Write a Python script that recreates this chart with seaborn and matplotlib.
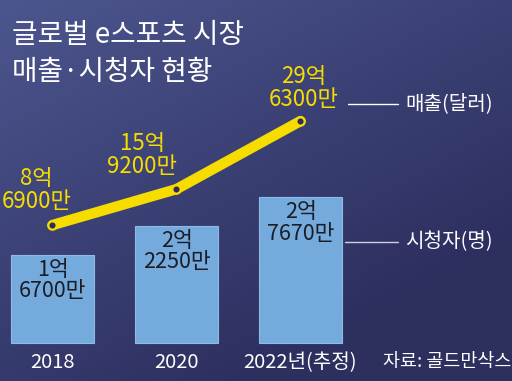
import numpy as np
import matplotlib
matplotlib.use("Agg")
import matplotlib.pyplot as plt
from matplotlib.lines import Line2D
import seaborn as sns

years = ["2018", "2020", "2022"]
year_labels = ["2018", "2020", "2022년(추정)"]
viewers = [167.0, 222.5, 276.7]          # 백만 명
viewer_labels = ["1억\n6700만", "2억\n2250만", "2억\n7670만"]
revenue = [869, 1592, 2963]              # 백만 달러
revenue_labels = ["8억\n6900만", "15억\n9200만", "29억\n6300만"]

sns.set_theme(style="white")
plt.rcParams["font.family"] = ["Noto Sans CJK KR", "DejaVu Sans"]

W, H = 512, 381
fig = plt.figure(figsize=(W / 100, H / 100), dpi=100)

# background gradient
bg = fig.add_axes([0, 0, 1, 1], zorder=0)
yy, xx = np.mgrid[0:1:200j, 0:1:200j]
t = np.clip(0.55 * xx + 0.75 * yy, 0, 1) / 1.3
c0 = np.array([76, 86, 142]) / 255
c1 = np.array([36, 36, 82]) / 255
img = c0[None, None, :] * (1 - t[..., None]) + c1[None, None, :] * t[..., None]
bg.imshow(img, aspect="auto", extent=[0, 1, 0, 1], origin="upper")
bg.set_axis_off()

ax = fig.add_axes([0, 0, 1, 1], zorder=1)
ax.patch.set_alpha(0)
sns.barplot(x=years, y=viewers, ax=ax, color="#74aadc", width=0.67,
            edgecolor="#8fbce6", linewidth=0.8, saturation=1)
ax.set_xlim(-0.423, 3.706)
ax.set_ylim(-72, 649.6)
ax.set_axis_off()

for i, (v, lab) in enumerate(zip(viewers, viewer_labels)):
    ax.annotate(lab, xy=(i, v), xytext=(0, -4), textcoords="offset pixels",
                ha="center", va="top", fontsize=15.5, color="#1c1c24",
                linespacing=0.98)

for i, lab in enumerate(year_labels):
    ax.annotate(lab, xy=(i, 0), xytext=(0, -9), textcoords="offset pixels",
                ha="center", va="top", fontsize=14.5, color="white")

ax2 = ax.twinx()
ax2.patch.set_alpha(0)
sns.lineplot(x=list(range(len(years))), y=revenue, ax=ax2, color="#f7dc00",
             linewidth=7.5, solid_capstyle="round", marker="o", markersize=6,
             markerfacecolor="#2b2d5e", markeredgecolor="#f7dc00",
             markeredgewidth=1.6)
ax2.set_ylim(-2271, 5400)
ax2.set_axis_off()

offsets = [(-16, 12), (-34, 11), (3, 10)]
for i, (r, lab) in enumerate(zip(revenue, revenue_labels)):
    ax2.annotate(lab, xy=(i, r), xytext=offsets[i], textcoords="offset pixels",
                 ha="center", va="bottom", fontsize=16, color="#f7dc00",
                 linespacing=0.98)

# title
fig.text(12 / W, 1 - 20 / H, "글로벌 e스포츠 시장\n매출·시청자 현황", ha="left", va="top",
         fontsize=20, color="white", linespacing=1.3)

# legend-like annotations
def fx(px):
    return px / W

def fy(py):
    return 1 - py / H

fig.add_artist(Line2D([fx(348), fx(398)], [fy(104), fy(104)], color="white", lw=1.0))
fig.text(fx(405), fy(104), "매출(달러)", ha="left", va="center", fontsize=14.5, color="white")
fig.add_artist(Line2D([fx(345), fx(398)], [fy(242), fy(242)], color="#d0d0dc", lw=1.0))
fig.text(fx(405), fy(242), "시청자(명)", ha="left", va="center", fontsize=14.5, color="white")

fig.text(fx(383), fy(362), "자료: 골드만삭스", ha="left", va="center", fontsize=13.3, color="white")

fig.savefig("out.png", dpi=100)
